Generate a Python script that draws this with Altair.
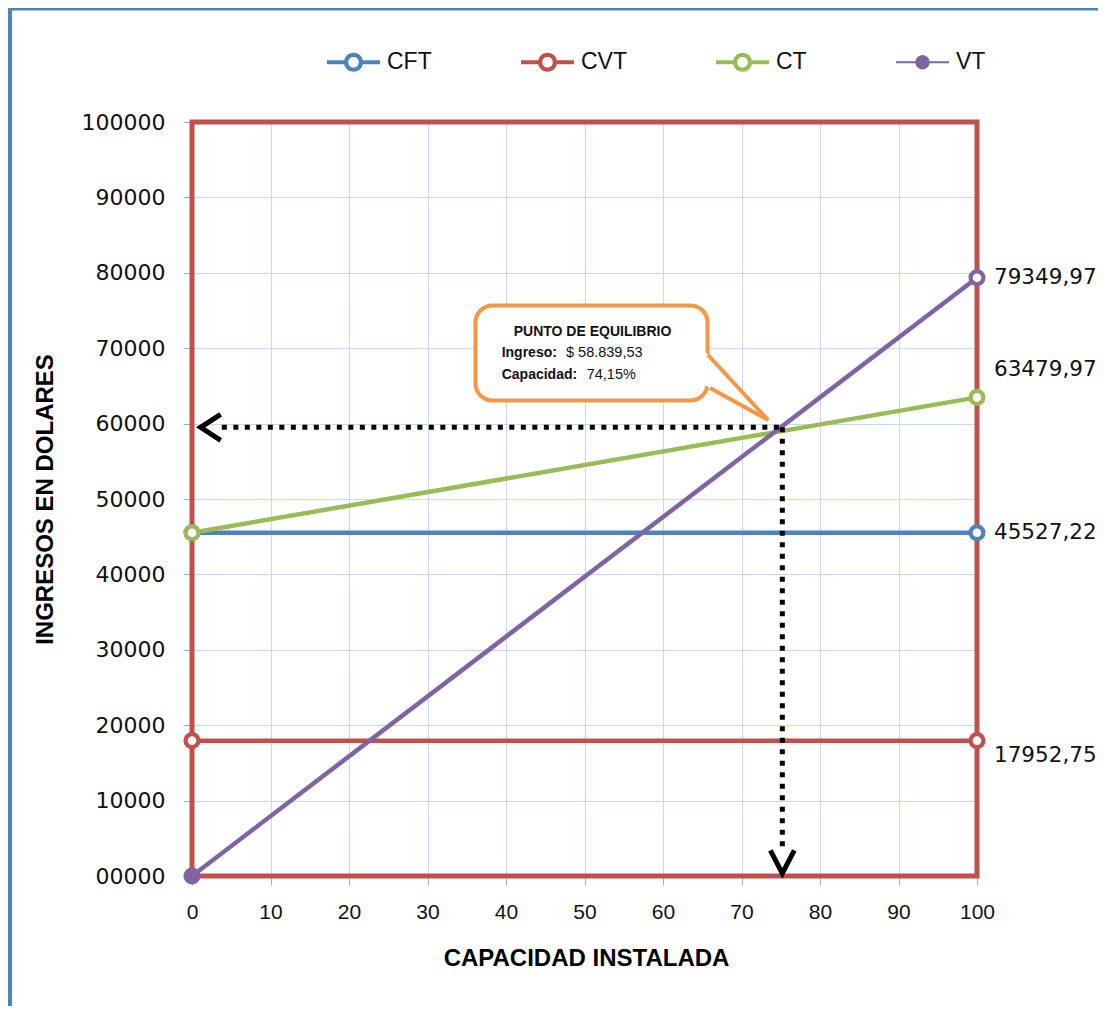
import math
import altair as alt
import pandas as pd

# ---------------- data ----------------
SERIES = ["CFT", "CVT", "CT", "VT"]
CAPACIDAD = [0, 100]
CFT = [45527.22, 45527.22]
CVT = [17952.75, 17952.75]
CT = [45527.22, 63479.97]
VT = [0.0, 79349.97]
COLORS = ["#4F81BD", "#C0504D", "#9BBB59", "#8064A2"]

X_TICKS = list(range(0, 101, 10))
Y_TICKS = list(range(0, 100001, 10000))

EQ_TITLE = "PUNTO DE EQUILIBRIO"
EQ_NAMES = ["Ingreso:", "Capacidad:"]
EQ_VALUES = ["$ 58.839,53", "74,15%"]

# arrows meeting at the break-even point (as drawn in the picture)
ARROW_X = 75.2
ARROW_Y = 59500

rows = []
for s, vals in zip(SERIES, [CFT, CVT, CT, VT]):
    for x, v in zip(CAPACIDAD, vals):
        rows.append({"serie": s, "capacidad": x, "valor": v})
df = pd.DataFrame(rows)

# ---------------- styling ----------------
W, H = 785, 754
ORANGE = "#F79646"
xs = alt.Scale(domain=[0, 100], nice=False, zero=False)
ys = alt.Scale(domain=[0, 100000], nice=False, zero=False)

x_axis = alt.Axis(
    values=X_TICKS, title="CAPACIDAD INSTALADA", grid=True, domain=False,
    tickSize=9, tickColor="#95B3D7", labelFont="Liberation Sans", labelFontSize=21,
    labelColor="#111111", labelPadding=27, labelBaseline="middle", labelFlush=False,
    labelOverlap=False, titleFont="Liberation Sans", titleFontSize=24, titleFontWeight="bold",
    titleColor="#000000", titleX=394, titleY=82, titleAlign="center", titleBaseline="middle",
    gridColor="#C6D9F1", gridWidth=1,
)
y_axis = alt.Axis(
    values=Y_TICKS, format="05d", title="INGRESOS EN DOLARES", grid=True, domain=False,
    tickSize=9, tickColor="#95B3D7", labelFont="DejaVu Sans", labelFontSize=22,
    labelColor="#111111", labelPadding=18, labelFlush=False, labelOverlap=False,
    titleFont="Liberation Sans", titleFontSize=24, titleFontWeight="bold", titleColor="#000000",
    titleX=-147, titleY=377, titleAlign="center", titleBaseline="middle",
    gridColor="#C6D9F1", gridWidth=1,
)


def X(field, **kw):
    return alt.X(field, type="quantitative", scale=xs, axis=x_axis, **kw)


def Y(field, **kw):
    return alt.Y(field, type="quantitative", scale=ys, axis=y_axis, **kw)


one = pd.DataFrame({"k": [0]})

# outer blue frame of the chart
frame_left = alt.Chart(one).mark_rule(color="#4F81BD", strokeWidth=5).encode(
    x=alt.value(-182.5), y=alt.value(-130), y2=alt.value(H + 150))
frame_top = alt.Chart(one).mark_rule(color="#4F81BD", strokeWidth=4).encode(
    x=alt.value(-190), x2=alt.value(W + 140), y=alt.value(-113.5))

base = alt.Chart(df)

# red plot-area frame
plot_frame = alt.Chart(pd.DataFrame({"x1": [0], "x2": [100], "y1": [0], "y2": [100000]})).mark_rect(
    filled=False, color="#C0504D", strokeWidth=5).encode(
    x=X("x1"), x2="x2", y=Y("y1"), y2="y2")

series_lines = []
series_points = []
for s, c in zip(SERIES, COLORS):
    sub = base.transform_filter(f"datum.serie == '{s}'")
    series_lines.append(sub.mark_line(color=c, strokeWidth=4.5).encode(x=X("capacidad"), y=Y("valor")))
    series_points.append(
        sub.mark_point(filled=True, fill="white", stroke=c, size=165, strokeWidth=4.2, opacity=1)
        .encode(x=X("capacidad"), y=Y("valor")))

vt_origin = base.transform_filter(
    "datum.serie == 'VT' && datum.capacidad == 0"
).mark_point(filled=True, color="#8064A2", size=190, opacity=1).encode(
    x=X("capacidad"), y=Y("valor"))

label_dy = {"CFT": 0, "CVT": 15, "CT": -27, "VT": 0}
end_labels = [
    base.transform_filter(f"datum.serie == '{s}' && datum.capacidad == 100")
    .transform_calculate(txt="replace(format(datum.valor, '.2f'), '.', ',')")
    .mark_text(align="left", baseline="middle", dx=17, dy=dy, font="DejaVu Sans",
               fontSize=21.5, color="#111111")
    .encode(x=X("capacidad"), y=Y("valor"), text="txt:N")
    for s, dy in label_dy.items()
]

# dotted arrows
h_line = alt.Chart(pd.DataFrame({"x": [ARROW_X, 3.8], "y": [ARROW_Y, ARROW_Y]})).mark_line(
    color="black", strokeWidth=5, strokeDash=[5, 6.5]).encode(x=X("x"), y=Y("y"))
v_line = alt.Chart(pd.DataFrame({"x": [ARROW_X, ARROW_X], "y": [ARROW_Y, 3450]})).mark_line(
    color="black", strokeWidth=5, strokeDash=[5, 6.5]).encode(x=X("x"), y=Y("y"))
h_head = alt.Chart(pd.DataFrame({"x": [1.1], "y": [ARROW_Y]})).mark_point(
    shape="M1,-0.65L0,0L1,0.65", size=1600, filled=False, color="black", strokeWidth=5,
    opacity=1, strokeJoin="miter").encode(x=X("x"), y=Y("y"))
v_head = alt.Chart(pd.DataFrame({"x": [ARROW_X], "y": [360]})).mark_point(
    shape="M-0.52,-1L0,0L0.52,-1", size=2116, filled=False, color="black", strokeWidth=5,
    opacity=1, strokeJoin="miter").encode(x=X("x"), y=Y("y"))

# callout
box = alt.Chart(pd.DataFrame({"x1": [36.11], "x2": [65.67], "y1": [75663], "y2": [63064]})).mark_rect(
    fill="white", stroke=ORANGE, strokeWidth=4, cornerRadius=17).encode(
    x=X("x1"), x2="x2", y=Y("y1"), y2="y2")
patch = alt.Chart(pd.DataFrame({"x": [64.71, 73.38], "top": [70252, 60477], "bot": [65451, 60477]})).mark_area(
    color="white", opacity=1).encode(x=X("x"), y=Y("top"), y2="bot")
tail = alt.Chart(pd.DataFrame({"x": [65.73, 73.38, 65.99], "y": [69098, 60477, 64721], "o": [0, 1, 2]})).mark_line(
    color=ORANGE, strokeWidth=4, strokeJoin="miter").encode(x=X("x"), y=Y("y"), order="o:Q")

title_txt = alt.Chart(pd.DataFrame({"x": [51.02], "y": [72188], "t": [EQ_TITLE]})).mark_text(
    align="center", baseline="middle", font="Liberation Sans", fontSize=14, fontWeight="bold",
    color="#111111").encode(x=X("x"), y=Y("y"), text="t:N")
names_txt = alt.Chart(pd.DataFrame({"x": [39.45, 39.45], "y": [69324, 66446], "t": EQ_NAMES})).mark_text(
    align="left", baseline="middle", font="Liberation Sans", fontSize=14, fontWeight="bold",
    color="#111111").encode(x=X("x"), y=Y("y"), text="t:N")
values_txt = alt.Chart(pd.DataFrame({"x": [47.64, 50.28], "y": [69324, 66446], "t": EQ_VALUES})).mark_text(
    align="left", baseline="middle", font="Liberation Sans", fontSize=14.5,
    color="#111111").encode(x=X("x"), y=Y("y"), text="t:N")


# legend symbols: line + marker as filled polygon paths
def ring(r, clockwise=True, n=32):
    pts = []
    for i in range(n):
        a = 2 * math.pi * i / n
        if not clockwise:
            a = -a
        pts.append(f"{r * math.cos(a):.4f},{r * math.sin(a):.4f}")
    return "M" + "L".join(pts) + "Z"


P_HOLLOW = ("M-1,-0.0755L-0.3,-0.0755L-0.3,0.0755L-1,0.0755Z "
            "M0.3,-0.0755L1,-0.0755L1,0.0755L0.3,0.0755Z "
            + ring(0.36, True) + " " + ring(0.20, False))
P_VT = "M-1,-0.038L1,-0.038L1,0.038L-1,0.038Z " + ring(0.27, True)

legend_layer = base.transform_filter("datum.valor < -1").mark_point(filled=True, size=2809, opacity=1).encode(
    x=X("capacidad"), y=Y("valor"),
    color=alt.Color("serie:N", scale=alt.Scale(domain=SERIES, range=COLORS), title=None),
    shape=alt.Shape("serie:N", scale=alt.Scale(domain=SERIES, range=[P_HOLLOW] * 3 + [P_VT]), title=None),
)

chart = alt.layer(
    frame_left, frame_top, plot_frame, *series_lines, *series_points, vt_origin, *end_labels,
    h_line, v_line, h_head, v_head, box, patch, tail, title_txt, names_txt, values_txt,
    legend_layer,
).properties(
    width=W, height=H,
    autosize=alt.AutoSizeParams(type="none"),
    padding={"left": 184, "top": 114, "right": 121, "bottom": 130},
    background="white",
).configure_view(stroke=None).configure_legend(
    orient="none", legendX=135, legendY=-86.5, direction="horizontal", columns=4,
    columnPadding=89, symbolSize=2809, symbolStrokeWidth=0, labelFont="Liberation Sans",
    labelFontSize=23, labelOffset=7, labelColor="#111111", padding=0, rowPadding=0,
)

chart.save("out.html", embed_options={"renderer": "svg", "actions": False})
